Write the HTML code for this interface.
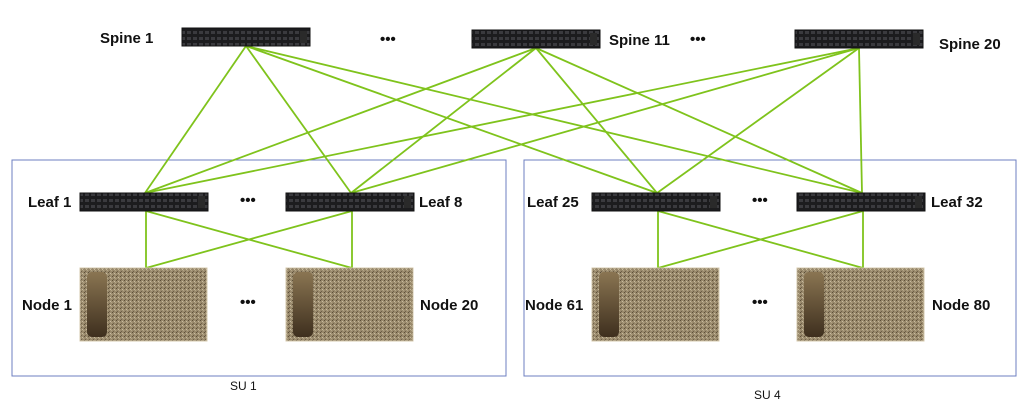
<!DOCTYPE html>
<html><head><meta charset="utf-8"><style>
body{margin:0;background:#fff;}
svg{display:block;font-family:"Liberation Sans",sans-serif;}
.lbl{font-weight:bold;font-size:15px;fill:#111;}
.su{font-size:12px;fill:#111;}
</style></head><body>
<svg id="diag" width="1033" height="412" viewBox="0 0 1033 412">
<defs>
<pattern id="grill" width="6" height="6" patternUnits="userSpaceOnUse">
<rect width="6" height="6" fill="#1c1c1e"/><rect x="1" y="1" width="4" height="3" fill="#3a3a3e"/>
</pattern>
<pattern id="noise" width="4" height="4" patternUnits="userSpaceOnUse">
<rect width="4" height="4" fill="#9a8a6c"/><rect x="0" y="0" width="1" height="1" fill="#5c4f3a"/><rect x="2" y="1" width="1" height="1" fill="#c8bca2"/><rect x="1" y="3" width="1" height="1" fill="#6e604a"/><rect x="3" y="2" width="1" height="1" fill="#b3a588"/>
</pattern>
<linearGradient id="handle" x1="0" x2="0" y1="0" y2="1"><stop offset="0" stop-color="#8a7552"/><stop offset="1" stop-color="#3e2f1e"/></linearGradient>
</defs>
<rect x="12" y="160" width="494" height="216" fill="none" stroke="#6d7fc0" stroke-width="1"/>
<rect x="524" y="160" width="492" height="216" fill="none" stroke="#6d7fc0" stroke-width="1"/>
<g id="links"></g>
<g id="devs"></g>
<text class="su" x="230" y="390">SU 1</text>
<text class="su" x="754" y="399">SU 4</text>
</svg>
<script>
const NS='http://www.w3.org/2000/svg';
const spines=[{n:'Spine 1',x:182,y:28,lx:100,ly:43},{n:'Spine 11',x:472,y:30,lx:609,ly:45},{n:'Spine 20',x:795,y:30,lx:939,ly:49}];
const leaves=[{n:'Leaf 1',x:80,lx:28},{n:'Leaf 8',x:286,lx:419},{n:'Leaf 25',x:592,lx:527},{n:'Leaf 32',x:797,lx:931}];
const nodes=[{n:'Node 1',x:80,lx:22},{n:'Node 20',x:286,lx:420},{n:'Node 61',x:592,lx:525},{n:'Node 80',x:797,lx:932}];
const dots=[[380,44],[690,44],[240,205],[752,205],[240,307],[752,307]];
const links=document.getElementById('links'),devs=document.getElementById('devs');
function line(x1,y1,x2,y2){const l=document.createElementNS(NS,'line');
l.setAttribute('x1',x1);l.setAttribute('y1',y1);l.setAttribute('x2',x2);l.setAttribute('y2',y2);
l.setAttribute('stroke','#7fc31c');l.setAttribute('stroke-width','1.8');


links.appendChild(l);}
function text(s,x,y,name,size){const t=document.createElementNS(NS,'text');t.setAttribute('x',x);t.setAttribute('y',y);t.setAttribute('class','lbl');if(size)t.setAttribute('font-size',size);t.textContent=s;


devs.appendChild(t);}
function sw(x,y,name){const g=document.createElementNS(NS,'g');


g.innerHTML=`<rect x="${x}" y="${y}" width="128" height="18" fill="url(#grill)" stroke="#111"/><rect x="${x+118}" y="${y+3}" width="7" height="12" fill="#2a2a2a"/>`;devs.appendChild(g);}
function node(x,name){const g=document.createElementNS(NS,'g');


g.innerHTML=`<rect x="${x}" y="268" width="127" height="73" fill="url(#noise)" stroke="#d6c9ae"/><rect x="${x+7}" y="272" width="20" height="65" rx="5" fill="url(#handle)"/>`;devs.appendChild(g);}
spines.forEach(s=>leaves.forEach(l=>line(s.x+64,s.y+18,l.x+65,193)));
[[0,1],[2,3]].forEach(([i,j])=>{const li=leaves[i].x+66,lj=leaves[j].x+66;
line(li,211,li,268);line(lj,211,lj,268);line(li,211,lj,268);line(lj,211,li,268);});
spines.forEach((s,i)=>{sw(s.x,s.y,'spine-switch-'+(i+1));text(s.n,s.lx,s.ly,'spine-label-'+(i+1));});
leaves.forEach((l,i)=>{sw(l.x,193,'leaf-switch-'+(i+1));text(l.n,l.lx,207,'leaf-label-'+(i+1));});
nodes.forEach((n,i)=>{node(n.x,'compute-node-'+(i+1));text(n.n,n.lx,310,'node-label-'+(i+1));});
dots.forEach((d,i)=>text('•••',d[0],d[1],'ellipsis-'+(i+1),'14'));
</script>
</body></html>
